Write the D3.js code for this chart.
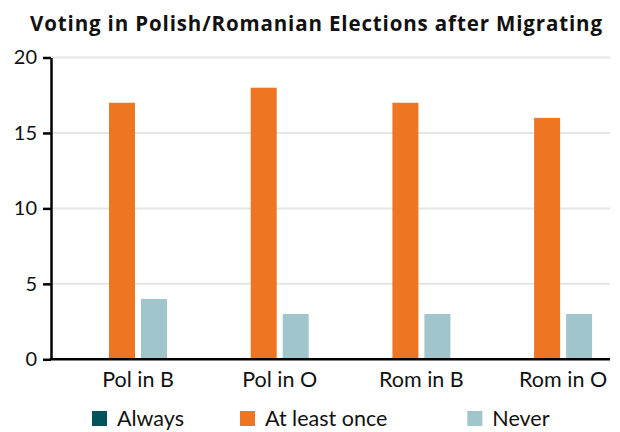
<!DOCTYPE html>
<html>
<head>
<meta charset="utf-8">
<script src="https://cdn.jsdelivr.net/npm/d3@7"></script>
<style>
  body { margin: 0; background: #fff; }
  svg text { font-family: Lato, "Open Sans", sans-serif; fill: #111; }
  .grid line { stroke: #e5e5e5; stroke-width: 2; }
</style>
</head>
<body>
<div id="chart"></div>
<script>
// data
var categories = ["Pol in B", "Pol in O", "Rom in B", "Rom in O"];
var series = ["Always", "At least once", "Never"];
var always = [0, 0, 0, 0];
var atLeastOnce = [17, 18, 17, 16];
var never = [4, 3, 3, 3];
var yTicks = [0, 5, 10, 15, 20];
var colors = ["#00535d", "#ee7623", "#a0c5ca"];

var values = [always, atLeastOnce, never];

var width = 620, height = 432;
var plotLeft = 51, plotRight = 610, plotTop = 57.5, plotBottom = 359.3;

var svg = d3.select("#chart").append("svg")
    .attr("width", width)
    .attr("height", height);

var x0 = d3.scaleBand()
    .domain(categories)
    .range([plotLeft, plotRight])
    .paddingInner(0.422)
    .paddingOuter(0.1835);
var x1 = d3.scaleBand()
    .domain(series)
    .range([0, 90])
    .paddingInner(0.1875);
var y = d3.scaleLinear()
    .domain([0, 20])
    .range([plotBottom, plotTop]);
var color = d3.scaleOrdinal().domain(series).range(colors);

// title
svg.append("text")
    .attr("x", 316)
    .attr("y", 30.5)
    .attr("text-anchor", "middle")
    .attr("textLength", 572)
    .attr("lengthAdjust", "spacing")
    .style("font-family", "'Open Sans', Lato, sans-serif")
    .style("font-size", "20.5px")
    .style("font-weight", "bold")
    .text("Voting in Polish/Romanian Elections after Migrating");

// gridlines
svg.append("g")
    .attr("class", "grid")
    .selectAll("line")
    .data(yTicks.filter(function(d) { return d > 0; }))
    .enter().append("line")
    .attr("x1", plotLeft)
    .attr("x2", plotRight)
    .attr("y1", function(d) { return y(d); })
    .attr("y2", function(d) { return y(d); });

// bars
var groups = svg.selectAll(".group")
    .data(categories)
    .enter().append("g")
    .attr("class", "group")
    .attr("transform", function(d) { return "translate(" + x0(d) + ",0)"; });

groups.selectAll("rect")
    .data(function(d, i) {
        return series.map(function(s, j) { return { key: s, value: values[j][i] }; });
    })
    .enter().append("rect")
    .attr("x", function(d) { return x1(d.key); })
    .attr("width", x1.bandwidth())
    .attr("y", function(d) { return y(d.value); })
    .attr("height", function(d) { return plotBottom - y(d.value); })
    .attr("fill", function(d) { return color(d.key); });

// y axis
var yAxis = svg.append("g")
    .attr("transform", "translate(" + plotLeft + ",0)")
    .call(d3.axisLeft(y).tickValues(yTicks).tickSize(8).tickPadding(6).tickSizeOuter(0));
yAxis.select(".domain").attr("stroke", "#000").attr("stroke-width", 2.5);
yAxis.selectAll(".tick line").attr("stroke", "#000").attr("stroke-width", 2.5);
yAxis.selectAll("text").style("font-size", "20px").attr("fill", "#111");

// x axis, labels centred under the visible pair of bars
var labelShift = (x1("At least once") + x1("Never") + x1.bandwidth()) / 2;
svg.append("line")
    .attr("x1", plotLeft - 1.25)
    .attr("x2", plotRight)
    .attr("y1", plotBottom)
    .attr("y2", plotBottom)
    .attr("stroke", "#000")
    .attr("stroke-width", 2.5);
svg.selectAll(".xlabel")
    .data(categories)
    .enter().append("text")
    .attr("class", "xlabel")
    .attr("x", function(d) { return x0(d) + labelShift; })
    .attr("y", 387)
    .attr("text-anchor", "middle")
    .style("font-size", "21.5px")
    .text(function(d) { return d; });

// legend
var legend = svg.append("g").attr("class", "legend");
var lx = 92;
var gaps = [56, 80];
series.forEach(function(s, i) {
    legend.append("rect")
        .attr("x", lx)
        .attr("y", 411)
        .attr("width", 15)
        .attr("height", 15)
        .attr("fill", color(s));
    var t = legend.append("text")
        .attr("x", lx + 25)
        .attr("y", 426)
        .style("font-size", "21.5px")
        .text(s);
    lx += 25 + t.node().getComputedTextLength() + (gaps[i] || 0);
});
</script>
</body>
</html>
